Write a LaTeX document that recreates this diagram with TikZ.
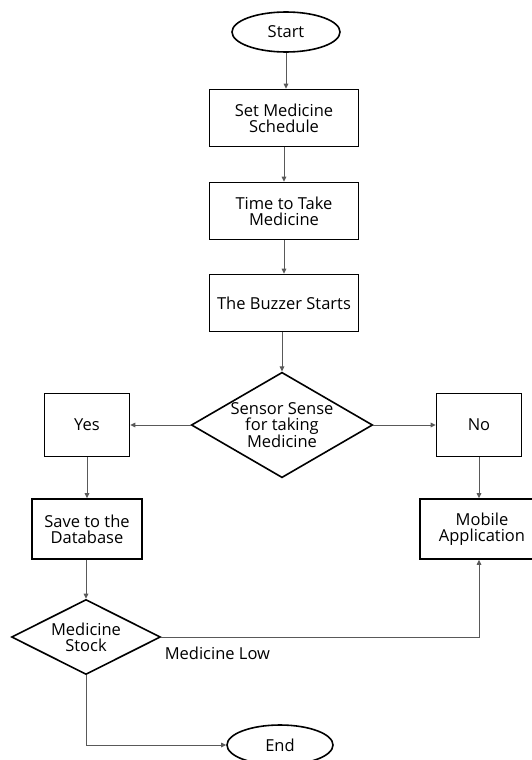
\documentclass[tikz,border=0pt]{standalone}
\usepackage{fontspec}
\setmainfont{Open Sans}
\usetikzlibrary{arrows.meta, positioning, shapes.geometric}

\begin{document}
\begin{tikzpicture}[on grid, >={Triangle[length=5pt,width=4.5pt]},
    every node/.style={font=\fontsize{16.5}{16}\selectfont, align=center}]
  \tikzstyle{termB}=[ellipse, draw=black, line width=1.6pt, minimum width=108pt, minimum height=40pt, inner sep=0pt]
  \tikzstyle{procB}=[rectangle, draw=black, line width=1.6pt, minimum width=149pt, minimum height=57pt, inner sep=0pt]
  \tikzstyle{sideB}=[procB, minimum width=85pt, minimum height=63pt]
  \tikzstyle{dbB}=[procB, minimum width=110pt, minimum height=60pt]
  \tikzstyle{decB}=[diamond, draw=black, line width=1.6pt, aspect=1.72, inner sep=0pt]
  \tikzstyle{flow}=[->, draw=black!65, line width=1pt]
  \useasboundingbox (0,0) rectangle (531pt,-760pt);

  % Nodes
  \node[termB] (start) at (286pt,-32pt) {Start};
  \node[procB] (sched) [below left=86pt and 2pt of start] {Set Medicine\\Schedule};
  \node[procB] (take) [below=93pt of sched] {Time to Take\\Medicine};
  \node[procB] (buzz) [below=92pt of take] {The Buzzer Starts};
  \node[decB, minimum width=179pt, minimum height=104pt] (sense) [below left=122pt and 2pt of buzz] {Sensor Sense\\for taking\\Medicine};
  \node[sideB] (yes) [left=195pt of sense] {Yes};
  \node[sideB] (no) [right=197pt of sense] {No};
  \node[dbB] (save) [below=104pt of yes] {Save to the\\Database};
  \node[dbB, minimum width=124pt] (mobile) [below right=104pt and 3pt of no] {Mobile\\Application};
  \node[decB, minimum width=149pt, minimum height=75pt] (stock) [below left=108pt and 1pt of save] {Medicine\\Stock};
  \node[termB, minimum width=106pt] (end) [below right=108pt and 194pt of stock] {End};

  % Transitions
  \draw[flow] (start) -- (start |- sched.north);
  \draw[flow] (sched.south -| take) -- (take);
  \draw[flow] (take) -- (buzz);
  \draw[flow] (buzz.south -| sense) -- (sense);
  \draw[flow] (sense) -- (yes);
  \draw[flow] (sense) -- (no);
  \draw[flow] (yes.south -| save) -- (save);
  \draw[flow] (no.south) -- (no.south |- mobile.north);
  \draw[flow] (save.south -| stock) -- (stock);
  \draw[flow] (stock.east) -| node[pos=0, anchor=north west, inner sep=0pt, xshift=3pt, yshift=-9pt] {Medicine Low} (mobile.south -| no);
  \draw[flow] (stock.south) |- (end);
\end{tikzpicture}
\end{document}
